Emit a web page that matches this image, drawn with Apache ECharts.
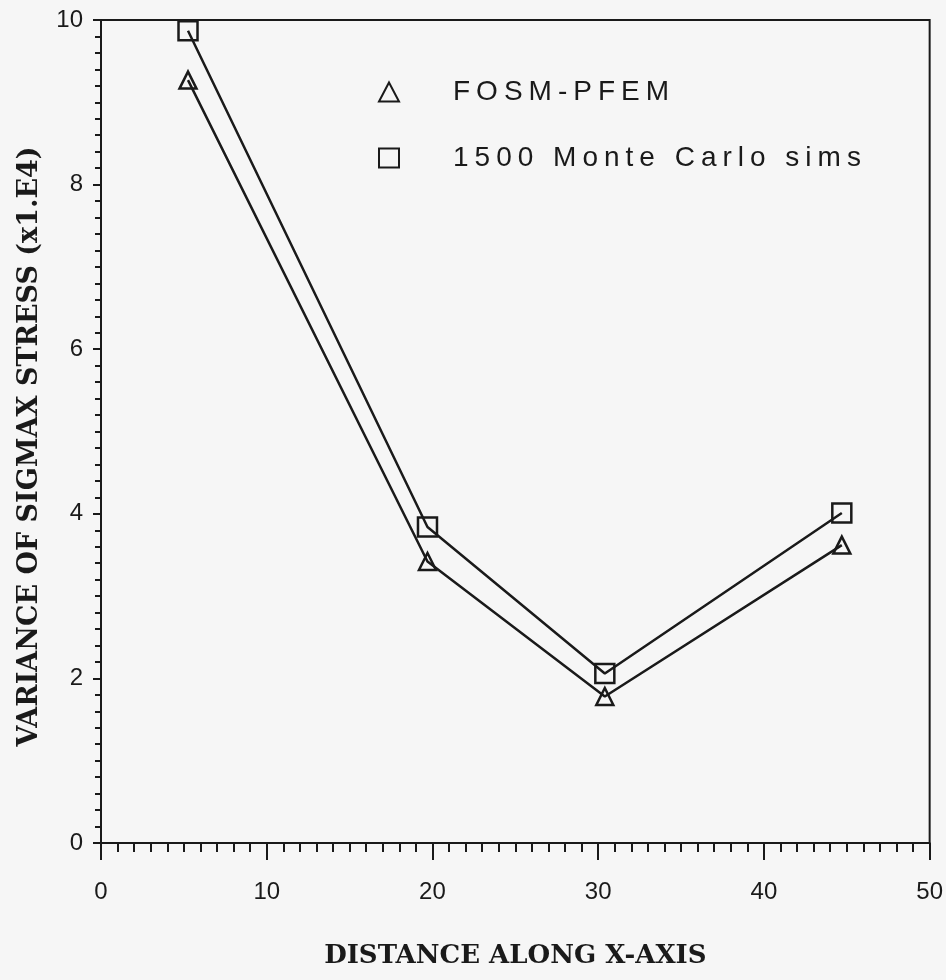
<!DOCTYPE html>
<html>
<head>
<meta charset="utf-8">
<script src="https://cdn.jsdelivr.net/npm/echarts@6/dist/echarts.min.js"></script>
<style>
  html, body { margin: 0; padding: 0; background: #f6f6f6; }
  #chart { width: 946px; height: 980px; }
</style>
</head>
<body>
<div id="chart"></div>
<script>
// Distance along the x-axis for each sampled section
const distance = [5.25, 19.7, 30.4, 44.7];
// Variance of sigma-max stress (x1.E4)
const fosmPfem = [9.27, 3.42, 1.78, 3.62];
const monteCarlo = [9.87, 3.84, 2.06, 4.01];
const seriesNames = ['FOSM-PFEM', '1500 Monte Carlo sims'];
const xTicks = [0, 10, 20, 30, 40, 50];
const yTicks = [0, 2, 4, 6, 8, 10];

const ink = '#1a1a1a';

// Spread letters apart with one rich fragment per character
function spaced(str, first) {
  return str.split('').map((c, i) => '{' + (i === 0 ? first : 'c') + '|' + c + '}').join('');
}

const chart = echarts.init(document.getElementById('chart'));

const markerStyle = { color: 'transparent', borderColor: ink, borderWidth: 2.5 };

chart.setOption({
  backgroundColor: '#f6f6f6',
  animation: false,
  grid: { left: 101, right: 14, top: 20, bottom: 137, show: true, borderColor: ink, borderWidth: 2 },
  legend: {
    orient: 'vertical',
    left: 373,
    top: 72,
    itemWidth: 20,
    itemHeight: 19,
    itemGap: 36,
    data: [
      { name: seriesNames[0], icon: 'triangle' },
      { name: seriesNames[1], icon: 'rect' }
    ],
    itemStyle: { color: 'transparent', borderColor: ink, borderWidth: 2 },
    formatter: name => spaced(name, 'f'),
    textStyle: {
      color: ink,
      fontFamily: 'Liberation Sans',
      fontSize: 28,
      lineHeight: 30,
      rich: {
        f: { fontFamily: 'Liberation Sans', fontSize: 28, color: ink, padding: [0, 3, 0, 49] },
        c: { fontFamily: 'Liberation Sans', fontSize: 28, color: ink, padding: [0, 3] }
      }
    }
  },
  xAxis: {
    type: 'value',
    min: xTicks[0],
    max: xTicks[xTicks.length - 1],
    interval: 10,
    name: 'DISTANCE ALONG X-AXIS',
    nameLocation: 'middle',
    nameGap: 100,
    nameTextStyle: { fontFamily: 'DejaVu Serif', fontWeight: 'bold', fontSize: 26, color: ink },
    axisLine: { onZero: false, lineStyle: { color: ink, width: 2 } },
    axisTick: { show: true, inside: false, length: 17, lineStyle: { color: ink, width: 2 } },
    minorTick: { show: true, splitNumber: 10, length: 9, lineStyle: { color: ink, width: 2 } },
    splitLine: { show: false },
    axisLabel: {
      margin: 37,
      showMinLabel: true,
      showMaxLabel: true,
      fontFamily: 'Liberation Sans',
      fontSize: 24,
      color: ink
    }
  },
  yAxis: {
    type: 'value',
    min: yTicks[0],
    max: yTicks[yTicks.length - 1],
    interval: 2,
    name: 'VARIANCE OF SIGMAX STRESS (x1.E4)',
    nameLocation: 'middle',
    nameGap: 58,
    nameTextStyle: { fontFamily: 'DejaVu Serif', fontWeight: 'bold', fontSize: 27, color: ink, padding: [0, 30, 0, 0] },
    axisLine: { onZero: false, lineStyle: { color: ink, width: 2 } },
    axisTick: { show: true, inside: false, length: 8, lineStyle: { color: ink, width: 2 } },
    minorTick: { show: true, splitNumber: 10, length: 6, lineStyle: { color: ink, width: 2 } },
    splitLine: { show: false },
    axisLabel: {
      margin: 18,
      showMinLabel: true,
      showMaxLabel: true,
      fontFamily: 'Liberation Sans',
      fontSize: 24,
      color: ink
    }
  },
  series: [
    {
      name: seriesNames[0],
      type: 'line',
      data: distance.map((d, i) => [d, fosmPfem[i]]),
      symbol: 'triangle',
      symbolSize: [17, 17],
      showAllSymbol: true,
      lineStyle: { color: ink, width: 2.5 },
      itemStyle: markerStyle,
      z: 3
    },
    {
      name: seriesNames[1],
      type: 'line',
      data: distance.map((d, i) => [d, monteCarlo[i]]),
      symbol: 'rect',
      symbolSize: [19, 19],
      showAllSymbol: true,
      lineStyle: { color: ink, width: 2.5 },
      itemStyle: markerStyle,
      z: 3
    }
  ]
});
</script>
</body>
</html>
